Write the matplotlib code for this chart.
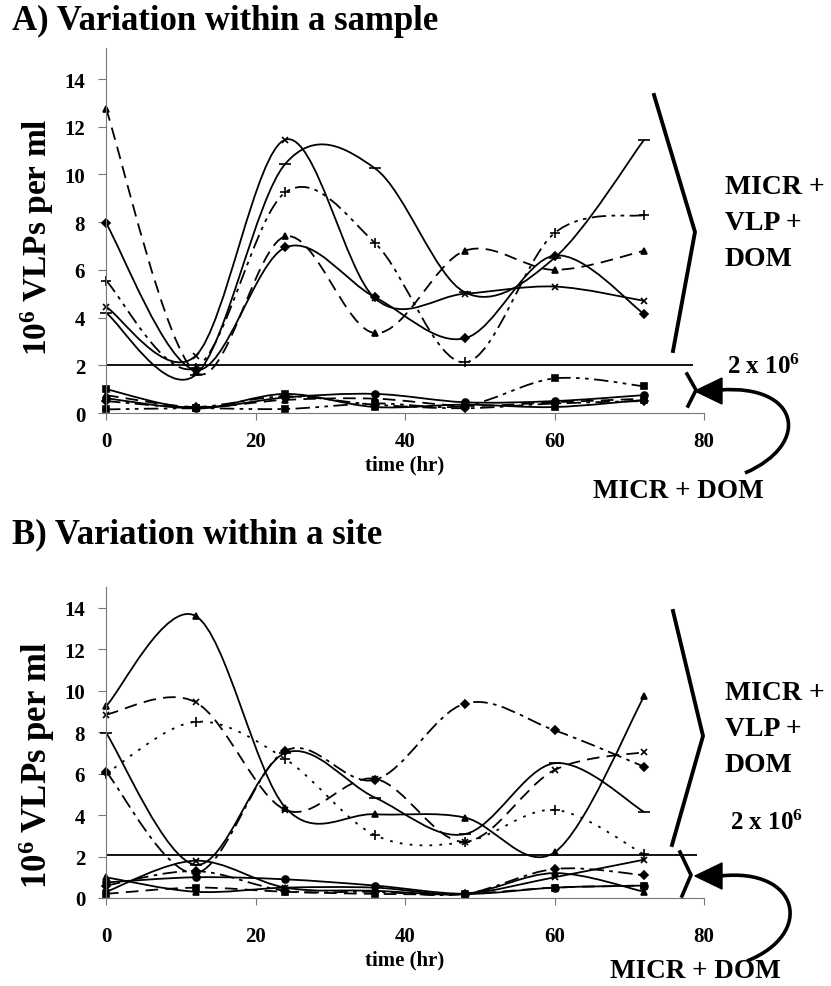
import numpy as np
import matplotlib
matplotlib.use("Agg")
import matplotlib.pyplot as plt
from matplotlib.path import Path
from matplotlib.patches import PathPatch, Polygon
from matplotlib.lines import Line2D

plt.rcParams["font.family"] = ["Liberation Serif", "DejaVu Serif"]
plt.rcParams["font.weight"] = "bold"
plt.rcParams["mathtext.fontset"] = "custom"
plt.rcParams["mathtext.rm"] = "Liberation Serif:bold"
plt.rcParams["mathtext.bf"] = "Liberation Serif:bold"
plt.rcParams["mathtext.default"] = "bf"

# sampling times (hr)
hours = [0, 12, 24, 36, 48, 60, 72]

# A) variation within a sample, 10^6 VLPs per ml
a_tri = [12.76, 1.7, 7.4, 3.35, 6.8, 6.0, 6.8]
a_diamond = [7.96, 1.8, 6.94, 4.85, 3.13, 6.6, 4.15]
a_cross = [4.45, 2.4, 11.46, 4.8, 5.0, 5.3, 4.7]
a_dash = [4.2, 1.6, 10.45, 10.25, 5.06, 6.5, 11.46]
a_plus = [5.55, 1.9, 9.25, 7.12, 2.12, 7.54, 8.3]
# MICR + DOM only
a_low1 = [0.15, 0.2, 0.17, 0.4, 0.3, 1.45, 1.12]
a_low2 = [1.0, 0.2, 0.8, 0.25, 0.35, 0.25, 0.55]
a_low3 = [0.62, 0.2, 0.65, 0.8, 0.45, 0.5, 0.75]
a_low4 = [0.75, 0.25, 0.55, 0.6, 0.3, 0.45, 0.6]
a_low5 = [0.5, 0.25, 0.7, 0.35, 0.2, 0.4, 0.5]

# B) variation within a site
b_tri = [9.25, 13.6, 4.36, 4.04, 3.88, 2.2, 9.73]
b_cross = [8.85, 9.44, 4.25, 5.75, 2.71, 6.17, 7.04]
b_plus = [6.0, 8.5, 6.7, 3.03, 2.7, 4.25, 2.1]
b_dash = [7.97, 1.6, 7.0, 4.84, 3.08, 6.5, 4.15]
b_diamond = [6.1, 1.2, 7.1, 5.7, 9.375, 8.09, 6.33]
# MICR + DOM only
b_low1 = [0.3, 1.8, 0.5, 0.35, 0.2, 1.0, 1.85]
b_low2 = [0.6, 1.3, 0.35, 0.3, 0.2, 1.4, 1.1]
b_low3 = [0.75, 1.0, 0.9, 0.6, 0.2, 0.5, 0.6]
b_low4 = [0.2, 0.5, 0.3, 0.2, 0.2, 0.5, 0.6]
b_low5 = [1.0, 0.3, 0.5, 0.5, 0.2, 1.2, 0.3]

threshold = 2.0

DASHED = (0, (7, 4))
DASHDOT = (0, (8, 3, 2, 3))
DASHDOTDOT = (0, (8, 3, 2, 3, 2, 3))
DOTTED = (0, (1.5, 4))

W, H = 831, 987
fig = plt.figure(figsize=(W / 100, H / 100), dpi=100)


def px(x, y):
    return x / W, 1 - y / H


def smooth(ax, x, y, ls="-", marker="o", ms=5, lw=1.3):
    # Excel-style smoothed line: cubic bezier through every point
    pts = np.column_stack([x, y]).astype(float)
    n = len(pts)
    verts = [pts[0]]
    codes = [Path.MOVETO]
    for i in range(n - 1):
        p0 = pts[max(i - 1, 0)]
        p1, p2 = pts[i], pts[i + 1]
        p3 = pts[min(i + 2, n - 1)]
        verts += [p1 + (p2 - p0) / 6, p2 - (p3 - p1) / 6, p2]
        codes += [Path.CURVE4] * 3
    ax.add_patch(PathPatch(Path(verts, codes), fill=False, ec="black",
                           lw=lw, ls=ls, capstyle="butt"))
    ax.plot(x, y, ls="none", marker=marker, ms=ms, color="black",
            mew=1.2, clip_on=False)


def setup(ax, top, xpad):
    ax.set_xlim(0, 80)
    ax.set_ylim(0, top)
    ax.set_xticks(range(0, 81, 20))
    ax.set_yticks(range(0, 15, 2))
    for s in ["top", "right"]:
        ax.spines[s].set_visible(False)
    for s in ["left", "bottom"]:
        ax.spines[s].set_color("#777777")
        ax.spines[s].set_linewidth(0.8)
    ax.tick_params(axis="y", direction="out", length=6, width=0.8,
                   color="#777777", pad=9, labelsize=15)
    ax.tick_params(axis="x", direction="out", length=5, width=0.8,
                   color="#777777", pad=xpad, labelsize=15)
    for lab in ax.get_xticklabels() + ax.get_yticklabels():
        lab.set_fontweight("bold")


def bracket(pts, lw=2.6):
    xs = [px(*p)[0] for p in pts]
    ys = [px(*p)[1] for p in pts]
    fig.add_artist(Line2D(xs, ys, transform=fig.transFigure, color="black",
                          lw=lw, solid_joinstyle="miter"))


def curved_arrow(tip, tail):
    tx, ty = tip
    head = [px(tx, ty), px(tx + 27, ty - 13), px(tx + 27, ty + 13)]
    fig.add_artist(Polygon(head, closed=True, color="black",
                           transform=fig.transFigure))
    verts = [px(*p) for p in tail]
    codes = [Path.MOVETO, Path.CURVE4, Path.CURVE4, Path.CURVE4]
    fig.add_artist(PathPatch(Path(verts, codes), fill=False, ec="black",
                             lw=2.6, transform=fig.transFigure))


txt = dict(fontweight="bold", color="black")

# ---------------- panel A ----------------
axA = fig.add_axes([106 / W, 1 - 414 / H, 598 / W, 365 / H])
setup(axA, 15.3, 8)
smooth(axA, hours, a_tri, ls=DASHED, marker="^")
smooth(axA, hours, a_diamond, marker="D", ms=4.5)
smooth(axA, hours, a_cross, marker="x")
smooth(axA, hours, a_dash, marker="_", ms=8)
smooth(axA, hours, a_plus, ls=DASHDOTDOT, marker="+", ms=7)
smooth(axA, hours, a_low1, ls=DASHDOTDOT, marker="s", ms=4)
smooth(axA, hours, a_low2, marker="s", ms=5)
smooth(axA, hours, a_low3, marker="o", ms=5)
smooth(axA, hours, a_low4, ls=DASHED, marker="^", ms=5)
smooth(axA, hours, a_low5, ls=DASHDOT, marker="D", ms=4)
axA.hlines(threshold, 0, 78.5, color="black", lw=1.3)

fig.text(*px(12, 21), "A) Variation within a sample", fontsize=25,
         fontweight="bold", ha="left", va="center")
fig.text(*px(37, 237), r"10$^{6}$ VLPs per ml", fontsize=24,
         fontweight="bold", rotation=90, ha="center", va="center")
fig.text(*px(405, 465), "time (hr)", fontsize=15, fontweight="bold",
         ha="center", va="center")

bracket([(654, 96), (695, 233), (673, 352)], lw=2.8)
bracket([(687, 375), (696, 391), (688, 407)])
curved_arrow((695, 392), [(720, 391), (800, 385), (812, 445), (745, 474)])
for y, s in [(187, "MICR +"), (223, "VLP +"), (260, "DOM")]:
    fig.text(*px(725, y), s, ha="left", va="center", fontsize=20, **txt)
fig.text(*px(727, 367), r"2 x 10$^{6}$", ha="left", va="center",
         fontsize=18, **txt)
fig.text(*px(678, 492), "MICR + DOM", ha="center", va="center",
         fontsize=19.5, **txt)

# ---------------- panel B ----------------
axB = fig.add_axes([106 / W, 1 - 899 / H, 598 / W, 311 / H])
setup(axB, 15.0, 15)
smooth(axB, hours, b_tri, marker="^")
smooth(axB, hours, b_cross, ls=DASHED, marker="x")
smooth(axB, hours, b_plus, ls=DOTTED, marker="+", ms=7)
smooth(axB, hours, b_dash, marker="_", ms=8)
smooth(axB, hours, b_diamond, ls=DASHDOT, marker="D", ms=4.5)
smooth(axB, hours, b_low1, marker="x", ms=5)
smooth(axB, hours, b_low2, ls=DASHDOT, marker="D", ms=4)
smooth(axB, hours, b_low3, marker="o", ms=5)
smooth(axB, hours, b_low4, ls=DASHED, marker="s", ms=5)
smooth(axB, hours, b_low5, marker="^", ms=5)
axB.hlines(threshold + 0.05, 0, 79, color="black", lw=1.3)

fig.text(*px(12, 535), "B) Variation within a site", fontsize=25,
         fontweight="bold", ha="left", va="center")
fig.text(*px(37, 765), r"10$^{6}$ VLPs per ml", fontsize=25,
         fontweight="bold", rotation=90, ha="center", va="center")
fig.text(*px(405, 960), "time (hr)", fontsize=15, fontweight="bold",
         ha="center", va="center")

bracket([(673, 612), (703, 737), (672, 846)], lw=2.8)
bracket([(680, 853), (691, 876), (682, 897)])
curved_arrow((695, 877), [(720, 877), (800, 868), (815, 935), (747, 962)])
for y, s in [(694, "MICR +"), (730, "VLP +"), (766, "DOM")]:
    fig.text(*px(725, y), s, ha="left", va="center", fontsize=20, **txt)
fig.text(*px(730, 823), r"2 x 10$^{6}$", ha="left", va="center",
         fontsize=18, **txt)
fig.text(*px(695, 972), "MICR + DOM", ha="center", va="center",
         fontsize=19.5, **txt)

fig.savefig("out.png", dpi=100)
